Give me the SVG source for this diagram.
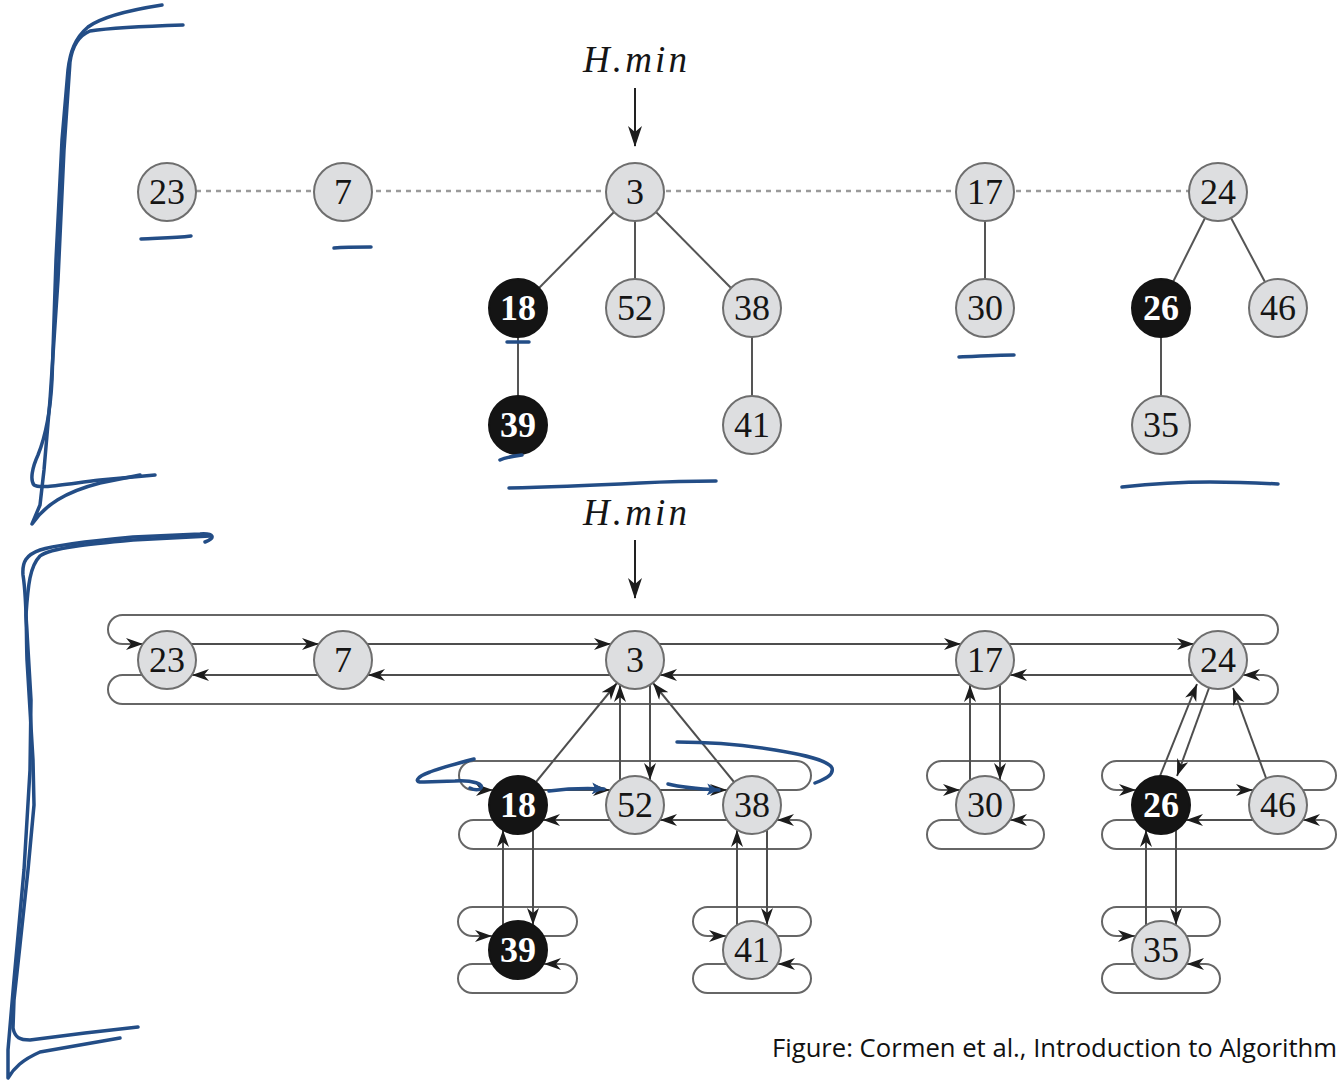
<svg xmlns="http://www.w3.org/2000/svg" width="1339" height="1083" viewBox="0 0 1339 1083">
  <style>
    .bg { fill: #ffffff; }
    .node circle { fill: #dddee0; stroke: #6e6e6e; stroke-width: 2; }
    .node.black circle { fill: #141414; stroke: #141414; }
    .node text { font-size: 36px; fill: #151515; text-anchor: middle; }
    .node.black text { fill: #ffffff; font-weight: bold; }
    .dotted { stroke: #9a9a9a; stroke-width: 2.5; stroke-dasharray: 5 5; fill: none; }
    .edge { stroke: #555555; stroke-width: 2; fill: none; }
    .ptr { stroke: #4e4e4e; stroke-width: 2; fill: none; marker-end: url(#tip); }
    .loop { stroke: #666666; stroke-width: 2; fill: none; marker-end: url(#tip); }
    .hmin { font-style: italic; font-size: 37px; fill: #151515; text-anchor: middle; }
    .ink { stroke: #234d86; stroke-width: 3.5; fill: none; stroke-linecap: round; stroke-linejoin: round; }
    .caption { font-size: 25px; fill: #111; }
  </style>
  <defs>
    <marker id="tip" markerUnits="userSpaceOnUse" markerWidth="18" markerHeight="13" refX="17" refY="6" orient="auto">
      <path d="M0,0 L17,6 L0,12 L5,6 Z" fill="#1c1c1c"/>
    </marker>
    <marker id="inktip" markerUnits="userSpaceOnUse" markerWidth="14" markerHeight="12" refX="12" refY="6" orient="auto">
      <path d="M0,0 L12,6 L0,12 L3,6 Z" fill="#234d86"/>
    </marker>
  </defs>

  <rect class="bg" x="0" y="0" width="1339" height="1083"/>

  <!-- ===== Upper figure: heap as forest ===== -->
  <g id="top-pointer">
    <text class="hmin" font-family="Liberation Serif, Times New Roman, serif" x="635" y="72" textLength="104" lengthAdjust="spacing">H.min</text>
    <line x1="635" y1="88" x2="635" y2="146" stroke="#222" stroke-width="2"/>
    <path d="M635,147 L628,126 L635,132 L642,126 Z" fill="#1c1c1c"/>
  </g>

  <g id="top-edges">
    <line class="dotted" x1="196" y1="191" x2="1189" y2="191"/>
    <line class="edge" x1="614" y1="212" x2="539" y2="288"/>
    <line class="edge" x1="635" y1="221" x2="635" y2="279"/>
    <line class="edge" x1="656" y1="212" x2="731" y2="288"/>
    <line class="edge" x1="518" y1="337" x2="518" y2="396"/>
    <line class="edge" x1="752" y1="337" x2="752" y2="396"/>
    <line class="edge" x1="985" y1="221" x2="985" y2="279"/>
    <line class="edge" x1="1205" y1="218" x2="1173" y2="282"/>
    <line class="edge" x1="1231" y1="218" x2="1265" y2="282"/>
    <line class="edge" x1="1161" y1="337" x2="1161" y2="396"/>
  </g>

  <g font-family="Liberation Serif, Times New Roman, serif">
  <g id="t23" class="node"><circle cx="167" cy="192" r="29"/><text x="167" y="204">23</text></g>
  <g id="t7" class="node"><circle cx="343" cy="192" r="29"/><text x="343" y="204">7</text></g>
  <g id="t3" class="node"><circle cx="635" cy="192" r="29"/><text x="635" y="204">3</text></g>
  <g id="t17" class="node"><circle cx="985" cy="192" r="29"/><text x="985" y="204">17</text></g>
  <g id="t24" class="node"><circle cx="1218" cy="192" r="29"/><text x="1218" y="204">24</text></g>
  <g id="t18" class="node black"><circle cx="518" cy="308" r="29"/><text x="518" y="320">18</text></g>
  <g id="t52" class="node"><circle cx="635" cy="308" r="29"/><text x="635" y="320">52</text></g>
  <g id="t38" class="node"><circle cx="752" cy="308" r="29"/><text x="752" y="320">38</text></g>
  <g id="t30" class="node"><circle cx="985" cy="308" r="29"/><text x="985" y="320">30</text></g>
  <g id="t26" class="node black"><circle cx="1161" cy="308" r="29"/><text x="1161" y="320">26</text></g>
  <g id="t46" class="node"><circle cx="1278" cy="308" r="29"/><text x="1278" y="320">46</text></g>
  <g id="t39" class="node black"><circle cx="518" cy="425" r="29"/><text x="518" y="437">39</text></g>
  <g id="t41" class="node"><circle cx="752" cy="425" r="29"/><text x="752" y="437">41</text></g>
  <g id="t35" class="node"><circle cx="1161" cy="425" r="29"/><text x="1161" y="437">35</text></g>
  </g>

  <!-- ===== Lower figure: doubly linked circular lists ===== -->
  <g id="bottom-pointer">
    <text class="hmin" font-family="Liberation Serif, Times New Roman, serif" x="635" y="525" textLength="104" lengthAdjust="spacing">H.min</text>
    <line x1="635" y1="540" x2="635" y2="598" stroke="#222" stroke-width="2"/>
    <path d="M635,599 L628,578 L635,584 L642,578 Z" fill="#1c1c1c"/>
  </g>

  <g id="connectors">
    <!-- root list: right pointers -->
    <path class="ptr" d="M191,644 H319"/>
    <path class="ptr" d="M367,644 H611"/>
    <path class="ptr" d="M659,644 H961"/>
    <path class="ptr" d="M1009,644 H1194"/>
    <path class="loop" d="M1242,644 H1263.5 A14.5,14.5 0 0 0 1263.5,615 H122.5 A14.5,14.5 0 0 0 122.5,644 H143"/>
    <!-- root list: left pointers -->
    <path class="ptr" d="M319,675 H192"/>
    <path class="ptr" d="M611,675 H368"/>
    <path class="ptr" d="M961,675 H660"/>
    <path class="ptr" d="M1194,675 H1010"/>
    <path class="loop" d="M142,675 H122.5 A14.5,14.5 0 0 0 122.5,704 H1263.5 A14.5,14.5 0 0 0 1263.5,675 H1243"/>

    <!-- children of 3 -->
    <path class="ptr" d="M543,790 H610"/>
    <path class="ptr" d="M660,790 H727"/>
    <path class="loop" d="M777,790 H796.5 A14.5,14.5 0 0 0 796.5,761 H473.5 A14.5,14.5 0 0 0 473.5,790 H493"/>
    <path class="ptr" d="M610,820 H543"/>
    <path class="ptr" d="M727,820 H660"/>
    <path class="loop" d="M493,820 H473.5 A14.5,14.5 0 0 0 473.5,849 H796.5 A14.5,14.5 0 0 0 796.5,820 H777"/>

    <!-- child of 17 -->
    <path class="loop" d="M1010,790 H1029.5 A14.5,14.5 0 0 0 1029.5,761 H941.5 A14.5,14.5 0 0 0 941.5,790 H960"/>
    <path class="loop" d="M960,820 H941.5 A14.5,14.5 0 0 0 941.5,849 H1029.5 A14.5,14.5 0 0 0 1029.5,820 H1010"/>

    <!-- children of 24 -->
    <path class="ptr" d="M1186,790 H1253"/>
    <path class="loop" d="M1303,790 H1321.5 A14.5,14.5 0 0 0 1321.5,761 H1116.5 A14.5,14.5 0 0 0 1116.5,790 H1136"/>
    <path class="ptr" d="M1253,820 H1186"/>
    <path class="loop" d="M1136,820 H1116.5 A14.5,14.5 0 0 0 1116.5,849 H1321.5 A14.5,14.5 0 0 0 1321.5,820 H1303"/>

    <!-- child of 18 -->
    <path class="loop" d="M543,936 H562.5 A14.5,14.5 0 0 0 562.5,907 H472.5 A14.5,14.5 0 0 0 472.5,936 H492"/>
    <path class="loop" d="M493,964 H472.5 A14.5,14.5 0 0 0 472.5,993 H562.5 A14.5,14.5 0 0 0 562.5,964 H544"/>
    <!-- child of 38 -->
    <path class="loop" d="M777,936 H796.5 A14.5,14.5 0 0 0 796.5,907 H707.5 A14.5,14.5 0 0 0 707.5,936 H726"/>
    <path class="loop" d="M727,964 H707.5 A14.5,14.5 0 0 0 707.5,993 H796.5 A14.5,14.5 0 0 0 796.5,964 H778"/>
    <!-- child of 26 -->
    <path class="loop" d="M1186,936 H1205.5 A14.5,14.5 0 0 0 1205.5,907 H1116.5 A14.5,14.5 0 0 0 1116.5,936 H1135"/>
    <path class="loop" d="M1136,964 H1116.5 A14.5,14.5 0 0 0 1116.5,993 H1205.5 A14.5,14.5 0 0 0 1205.5,964 H1187"/>

    <!-- parent / child pointers -->
    <path class="ptr" d="M536,782 L617,683"/>
    <path class="ptr" d="M620,780 V685"/>
    <path class="ptr" d="M650,685 V780"/>
    <path class="ptr" d="M734,782 L653,683"/>
    <path class="ptr" d="M970,780 V685"/>
    <path class="ptr" d="M1000,685 V780"/>
    <path class="ptr" d="M1160,776 L1197,684"/>
    <path class="ptr" d="M1209,688 L1177,776"/>
    <path class="ptr" d="M1266,778 L1233,688"/>
    <path class="ptr" d="M503,925 V830"/>
    <path class="ptr" d="M533,830 V925"/>
    <path class="ptr" d="M737,925 V830"/>
    <path class="ptr" d="M767,830 V925"/>
    <path class="ptr" d="M1146,925 V830"/>
    <path class="ptr" d="M1176,830 V925"/>
  </g>

  <g font-family="Liberation Serif, Times New Roman, serif">
  <g id="b23" class="node"><circle cx="167" cy="660" r="29"/><text x="167" y="672">23</text></g>
  <g id="b7" class="node"><circle cx="343" cy="660" r="29"/><text x="343" y="672">7</text></g>
  <g id="b3" class="node"><circle cx="635" cy="660" r="29"/><text x="635" y="672">3</text></g>
  <g id="b17" class="node"><circle cx="985" cy="660" r="29"/><text x="985" y="672">17</text></g>
  <g id="b24" class="node"><circle cx="1218" cy="660" r="29"/><text x="1218" y="672">24</text></g>
  <g id="b18" class="node black"><circle cx="518" cy="805" r="29"/><text x="518" y="817">18</text></g>
  <g id="b52" class="node"><circle cx="635" cy="805" r="29"/><text x="635" y="817">52</text></g>
  <g id="b38" class="node"><circle cx="752" cy="805" r="29"/><text x="752" y="817">38</text></g>
  <g id="b30" class="node"><circle cx="985" cy="805" r="29"/><text x="985" y="817">30</text></g>
  <g id="b26" class="node black"><circle cx="1161" cy="805" r="29"/><text x="1161" y="817">26</text></g>
  <g id="b46" class="node"><circle cx="1278" cy="805" r="29"/><text x="1278" y="817">46</text></g>
  <g id="b39" class="node black"><circle cx="518" cy="950" r="29"/><text x="518" y="962">39</text></g>
  <g id="b41" class="node"><circle cx="752" cy="950" r="29"/><text x="752" y="962">41</text></g>
  <g id="b35" class="node"><circle cx="1161" cy="950" r="29"/><text x="1161" y="962">35</text></g>
  </g>

  <text class="caption" font-family="Open Sans, Liberation Sans, sans-serif" x="772" y="1057" textLength="565" lengthAdjust="spacingAndGlyphs">Figure: Cormen et al., Introduction to Algorithm</text>

  <!-- ===== Hand-drawn ink marks ===== -->
  <g id="ink">
    <!-- bracket around upper figure -->
    <path class="ink" d="M162,5 C130,10 100,18 88,27 C75,38 70,52 68,70 L62,140 L56,260 L52,380 C50,420 44,440 38,455 C32,468 30,480 34,485 C40,489 60,485 100,480 L155,475"/>
    <path class="ink" d="M183,25 C150,26 110,28 90,31 C78,36 72,48 70,62 L64,150 L58,280 L50,400 L44,470 L40,505 L32,524 C45,505 65,492 100,483 L140,475"/>
    <!-- bracket around lower figure -->
    <path class="ink" d="M205,542 C216,538 214,533 200,534 L133,537 C90,541 55,545 40,550 C26,555 22,562 23,575 C27,600 26,630 27,660 L33,760 L34,805 L28,870 L20,945 L14,1000 L13,1028 C15,1038 20,1040 30,1040 L85,1033 L138,1027"/>
    <path class="ink" d="M210,536 L133,540 C90,544 50,548 40,556 C30,566 28,585 26,615 L31,700 L30,770 L24,870 L14,980 L8,1050 L8,1078 C14,1068 22,1060 40,1052 L120,1038"/>
    <!-- underlines -->
    <path class="ink" d="M141,239 C160,238 175,238 191,236"/>
    <path class="ink" d="M334,248 C345,247 360,247 371,247"/>
    <path class="ink" d="M507,342 C515,342 522,342 529,342"/>
    <path class="ink" d="M500,460 C506,457 514,456 522,455"/>
    <path class="ink" d="M509,488 C560,487 600,485 640,483 C680,481 705,481 716,481"/>
    <path class="ink" d="M959,357 C980,356 1000,355 1014,355"/>
    <path class="ink" d="M1122,487 C1150,484 1180,482 1210,482 C1240,482 1260,483 1278,484"/>
    <!-- marks on the child list of 3 -->
    <path class="ink" d="M474,759 C455,764 440,768 430,772 C416,777 413,783 424,782 L455,781 C472,780 486,784 480,789 C476,791 472,789 470,788"/>
    <path class="ink" marker-end="url(#inktip)" d="M549,791 C565,789 585,788 604,789"/>
    <path class="ink" marker-end="url(#inktip)" d="M668,784 C680,787 700,789 719,790"/>
    <path class="ink" d="M677,742 C710,742 745,745 775,750 C805,755 828,760 832,768 C834,775 825,779 815,783"/>
  </g>
</svg>
